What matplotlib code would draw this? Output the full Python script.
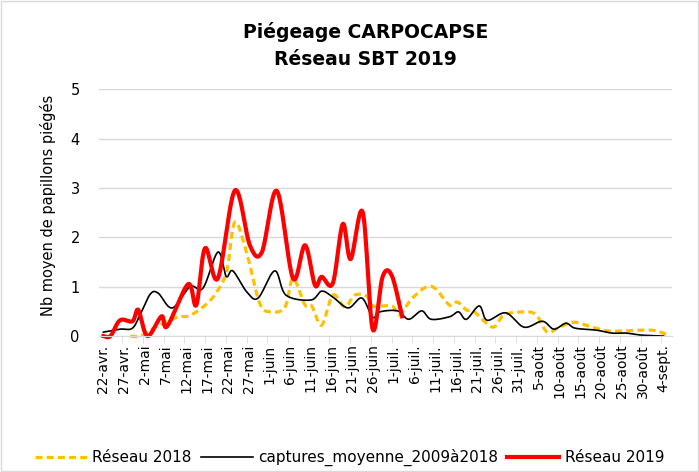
import matplotlib
matplotlib.use("Agg")
import matplotlib.pyplot as plt
import numpy as np
from matplotlib.patches import Rectangle

# x = days since 22-avr. (one label every 5 days)
tick_days = list(range(0, 136, 5))
tick_labels = ["22-avr.", "27-avr.", "2-mai", "7-mai", "12-mai", "17-mai", "22-mai",
               "27-mai", "1-juin", "6-juin", "11-juin", "16-juin", "21-juin", "26-juin",
               "1-juil.", "6-juil.", "11-juil.", "16-juil.", "21-juil.", "26-juil.",
               "31-juil.", "5-août", "10-août", "15-août", "20-août", "25-août",
               "30-août", "4-sept."]

# Réseau 2018 (dashed yellow)
r2018_days = [6.5, 9, 13, 17.8, 21, 25, 27.6, 29.8, 31.7, 34.6, 37.7, 40.6, 43.8, 45.7,
              48.6, 50.2, 52.6, 55.3, 58.2, 60.6, 63.5, 64.9, 69.5, 71.4, 74.5, 79,
              83.4, 85.3, 87.5, 89.4, 93.8, 96.6, 101.4, 104.3, 107, 109.9, 113.5,
              117.8, 122.4, 132, 136]
r2018_vals = [0, 0, 0.2, 0.38, 0.42, 0.66, 0.93, 1.34, 2.31, 1.67, 0.66, 0.49, 0.59, 1.17,
              0.63, 0.61, 0.22, 0.83, 0.59, 0.83, 0.81, 0.61, 0.61, 0.43, 0.77, 1.01,
              0.63, 0.69, 0.53, 0.49, 0.18, 0.43, 0.49, 0.43, 0.08, 0.18, 0.28,
              0.18, 0.1, 0.12, 0.02]

# captures_moyenne_2009à2018 (black)
moy_days = [0, 4, 7, 9, 11.3, 13.2, 16.6, 20.9, 24, 27.6, 29.6, 31.2, 34.6, 37.3, 41.3,
            44, 50, 52.6, 55.3, 59, 62.3, 64.9, 66.6, 70.9, 73.6, 76.7, 79, 83.4, 85.6,
            87.5, 90.6, 92.5, 97, 101.4, 105.8, 108.6, 111.5, 113.7, 118.8, 122.6, 126,
            129.6, 135]
moy_vals = [0.08, 0.14, 0.16, 0.46, 0.85, 0.87, 0.57, 1.0, 0.97, 1.7, 1.21, 1.32, 0.89,
            0.77, 1.32, 0.83, 0.73, 0.91, 0.79, 0.57, 0.77, 0.38, 0.49, 0.51, 0.34, 0.51,
            0.34, 0.39, 0.49, 0.34, 0.61, 0.32, 0.47, 0.18, 0.3, 0.14, 0.26, 0.16, 0.12,
            0.06, 0.06, 0.02, 0.0]

# Réseau 2019 (red)
r2019_days = [0, 1.7, 4, 7, 8.4, 10.6, 14, 15.4, 20.4, 22.4, 24.5, 27.6, 31.7, 35.3, 38.2,
              41.8, 45.7, 48.6, 51, 52.6, 55.3, 57.7, 59.6, 62.5, 64.9, 67.3, 69.5, 72]
r2019_vals = [0, 0, 0.32, 0.3, 0.53, 0.0, 0.4, 0.2, 1.05, 0.63, 1.78, 1.17, 2.95, 1.84,
              1.7, 2.94, 1.17, 1.84, 1.03, 1.2, 1.07, 2.27, 1.56, 2.51, 0.14, 1.2, 1.23, 0.4]


def smooth(xs, ys, n=24):
    # catmull-rom through the points, like excel's smoothed lines
    p = np.column_stack([xs, ys]).astype(float)
    p = np.vstack([p[0], p, p[-1]])
    t = np.linspace(0, 1, n, endpoint=False)[:, None]
    out = []
    for i in range(1, len(p) - 2):
        p0, p1, p2, p3 = p[i - 1], p[i], p[i + 1], p[i + 2]
        seg = 0.5 * (2 * p1 + (-p0 + p2) * t + (2 * p0 - 5 * p1 + 4 * p2 - p3) * t ** 2
                     + (-p0 + 3 * p1 - 3 * p2 + p3) * t ** 3)
        out.append(seg)
    out.append(p[-2][None])
    out = np.vstack(out)
    return out[:, 0], out[:, 1]


fig = plt.figure(figsize=(6.99, 4.72), dpi=100)
ax = fig.add_axes([0.142, 0.288, 0.819, 0.523])

x, y = smooth(r2018_days, r2018_vals)
ax.plot(x, y, color="#FFC000", lw=2.3, ls=(0, (2.2, 1.3)), label="Réseau 2018", clip_on=False)
x, y = smooth(moy_days, moy_vals)
ax.plot(x, y, color="black", lw=1.2, label="captures_moyenne_2009à2018", clip_on=False)
x, y = smooth(r2019_days, r2019_vals)
ax.plot(x, y, color="#FF0000", lw=3.0, label="Réseau 2019", clip_on=False)

ax.set_ylim(0, 5)
ax.set_xlim(-1, 137)
ax.set_yticks(range(6))
ax.yaxis.grid(True, color="#D9D9D9", lw=1)
ax.set_axisbelow(True)
ax.tick_params(axis="y", length=0, labelsize=10.5, pad=14)

ax.set_xticks(tick_days)
ax.set_xticklabels(tick_labels, rotation=90, fontsize=10)
ax.set_xticks([d - 0.5 for d in tick_days[1:]], minor=True)
ax.tick_params(axis="x", which="major", length=0, pad=6)
ax.tick_params(axis="x", which="minor", length=5, color="#D9D9D9")

for s in ["top", "right", "left"]:
    ax.spines[s].set_visible(False)
ax.spines["bottom"].set_color("#D9D9D9")

ax.set_ylabel("Nb moyen de papillons piégés", fontsize=10.5, labelpad=16)
ax.yaxis.set_label_coords(-0.075, 0.53)
fig.text(0.523, 0.903, "Piégeage CARPOCAPSE\nRéseau SBT 2019", fontsize=13.5,
         fontweight="bold", ha="center", va="center", linespacing=1.55)

fig.legend(loc="lower center", bbox_to_anchor=(0.5, -0.017), ncol=3, frameon=False,
           fontsize=11, handlelength=3.4, columnspacing=0.6, handletextpad=0.35)

fig.add_artist(Rectangle((0.002, 0.002), 0.996, 0.996, transform=fig.transFigure,
                         fill=False, edgecolor="#D9D9D9", lw=1))

fig.savefig("out.png", dpi=100)
